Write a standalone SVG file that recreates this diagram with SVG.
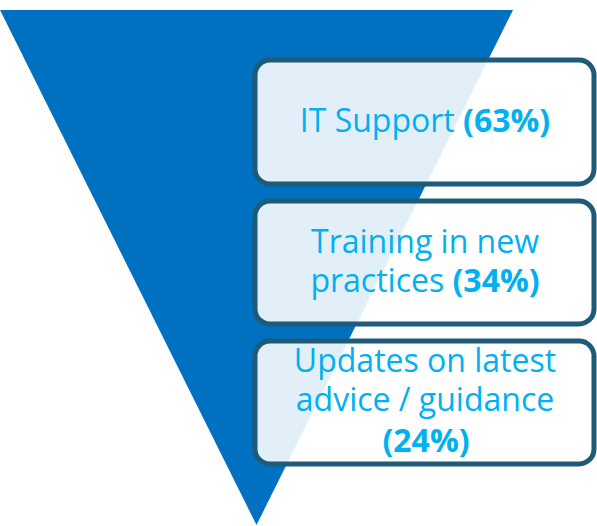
<svg xmlns="http://www.w3.org/2000/svg" width="597" height="526" viewBox="0 0 597 526">
<style>
.box{fill:#ffffff;fill-opacity:0.89;stroke:#1d5b79;stroke-width:5}
.t{font-family:"Open Sans","Liberation Sans",sans-serif;font-size:32px;fill:#00b0f0;text-anchor:middle}
.b{font-weight:bold}
</style>
<rect width="597" height="526" fill="#ffffff"/>
<g id="funnel"><polygon points="0,10 513,10 256.5,525" fill="#0070c0"/></g>
<g id="connectors"></g>
<g id="node1">
<rect class="box" x="255" y="60" width="339" height="124" rx="15" ry="15"/>
<text class="t" x="425" y="131.5">IT Support <tspan class="b">(63%)</tspan></text>
</g>
<g id="node2">
<rect class="box" x="255" y="201" width="339" height="123" rx="15" ry="15"/>
<text class="t" x="425" y="253">Training in new</text>
<text class="t" x="425" y="292">practices <tspan class="b">(34%)</tspan></text>
</g>
<g id="node3">
<rect class="box" x="255" y="341" width="339" height="123" rx="15" ry="15"/>
<text class="t" x="425" y="371.5">Updates on latest</text>
<text class="t" x="425" y="411">advice / guidance</text>
<text class="t b" x="426" y="452">(24%)</text>
</g>
</svg>
